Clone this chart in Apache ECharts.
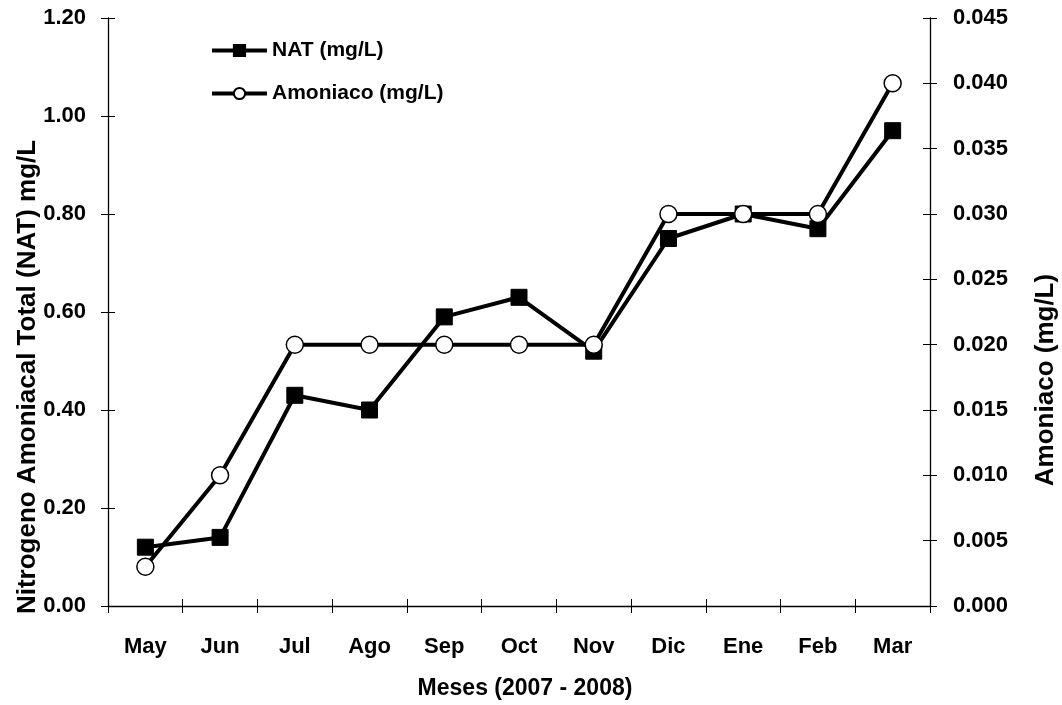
<!DOCTYPE html>
<html>
<head>
<meta charset="utf-8">
<script src="https://cdn.jsdelivr.net/npm/echarts@6/dist/echarts.min.js"></script>
<style>html,body{margin:0;padding:0;background:#fff;overflow:hidden;}#c{width:1062px;height:705px;}</style>
</head>
<body>
<div id="c"></div>
<script>
const categories = ['May','Jun','Jul','Ago','Sep','Oct','Nov','Dic','Ene','Feb','Mar'];
const natValues = [0.12,0.14,0.43,0.40,0.59,0.63,0.52,0.75,0.80,0.77,0.97];
const amoniacoValues = [0.003,0.010,0.020,0.020,0.020,0.020,0.020,0.030,0.030,0.030,0.040];
const leftTicks = {min:0, max:1.2, interval:0.2};
const rightTicks = {min:0, max:0.045, interval:0.005};

const FONT = '"Liberation Sans", Arial, sans-serif';
const lbl = {fontFamily: FONT, fontWeight:'bold', fontSize:22, color:'#000'};
const axisLine = {show:true, lineStyle:{color:'#000', width:1.3}};

const chart = echarts.init(document.getElementById('c'));
chart.setOption({
  backgroundColor:'#fff',
  animation:false,
  grid:{left:108, width:822, top:18, height:592, containLabel:false},
  legend:{
    orient:'vertical', left:205, top:35, itemWidth:55, itemHeight:14, itemGap:22,
    textStyle:{fontFamily:FONT, fontWeight:'bold', fontSize:21, color:'#000'},
    lineStyle:{width:4},
    data:['NAT (mg/L)','Amoniaco (mg/L)']
  },
  xAxis:[
    {type:'category', data:categories, boundaryGap:true, axisLine:axisLine,
     axisTick:{show:true, length:7, lineStyle:{color:'#000'}},
     axisLabel:Object.assign({margin:30}, lbl),
     name:'Meses (2007 - 2008)', nameLocation:'middle', nameGap:71,
     nameTextStyle:{fontFamily:FONT, fontWeight:'bold', fontSize:23, color:'#000', padding:[0,0,0,12]},
     splitLine:{show:false}},
    {type:'category', data:categories, boundaryGap:true, position:'bottom',
     axisLine:{show:false}, axisTick:{show:true, inside:true, length:7, lineStyle:{color:'#000'}},
     axisLabel:{show:false}, splitLine:{show:false}}
  ],
  yAxis:[
    {type:'value', min:leftTicks.min, max:leftTicks.max, interval:leftTicks.interval, position:'left',
     axisLine:axisLine, axisTick:{show:true, length:7, lineStyle:{color:'#000'}},
     axisLabel:Object.assign({margin:22, formatter:v=>v.toFixed(2)}, lbl),
     splitLine:{show:false}},
    {type:'value', min:rightTicks.min, max:rightTicks.max, interval:rightTicks.interval, position:'right',
     axisLine:axisLine, axisTick:{show:true, length:7, lineStyle:{color:'#000'}},
     axisLabel:Object.assign({margin:23, formatter:v=>v.toFixed(3)}, lbl),
     splitLine:{show:false}},
    {type:'value', min:leftTicks.min, max:leftTicks.max, interval:leftTicks.interval, position:'left',
     axisLine:{show:false}, axisTick:{show:true, inside:true, length:7, lineStyle:{color:'#000'}},
     axisLabel:{show:false}, splitLine:{show:false}},
    {type:'value', min:rightTicks.min, max:rightTicks.max, interval:rightTicks.interval, position:'right',
     axisLine:{show:false}, axisTick:{show:true, inside:true, length:7, lineStyle:{color:'#000'}},
     axisLabel:{show:false}, splitLine:{show:false}}
  ],
  graphic:[
    {type:'text', x:28, y:377, rotation:Math.PI/2,
     style:{text:'Nitrogeno Amoniacal Total (NAT) mg/L', font:'bold 26px '+FONT, fill:'#000', textAlign:'center', textVerticalAlign:'middle'}},
    {type:'text', x:1046, y:380, rotation:Math.PI/2,
     style:{text:'Amoniaco (mg/L)', font:'bold 26px '+FONT, fill:'#000', textAlign:'center', textVerticalAlign:'middle'}}
  ],
  series:[
    {name:'NAT (mg/L)', type:'line', xAxisIndex:0, yAxisIndex:0, data:natValues,
     symbol:'rect', symbolSize:16, lineStyle:{color:'#000', width:4},
     itemStyle:{color:'#000', borderColor:'#000', borderWidth:1}},
    {name:'Amoniaco (mg/L)', type:'line', xAxisIndex:0, yAxisIndex:1, data:amoniacoValues,
     symbol:'circle', symbolSize:17, showAllSymbol:true, lineStyle:{color:'#000', width:4},
     itemStyle:{color:'#fff', borderColor:'#000', borderWidth:1.5}}
  ]
});
</script>
</body>
</html>
